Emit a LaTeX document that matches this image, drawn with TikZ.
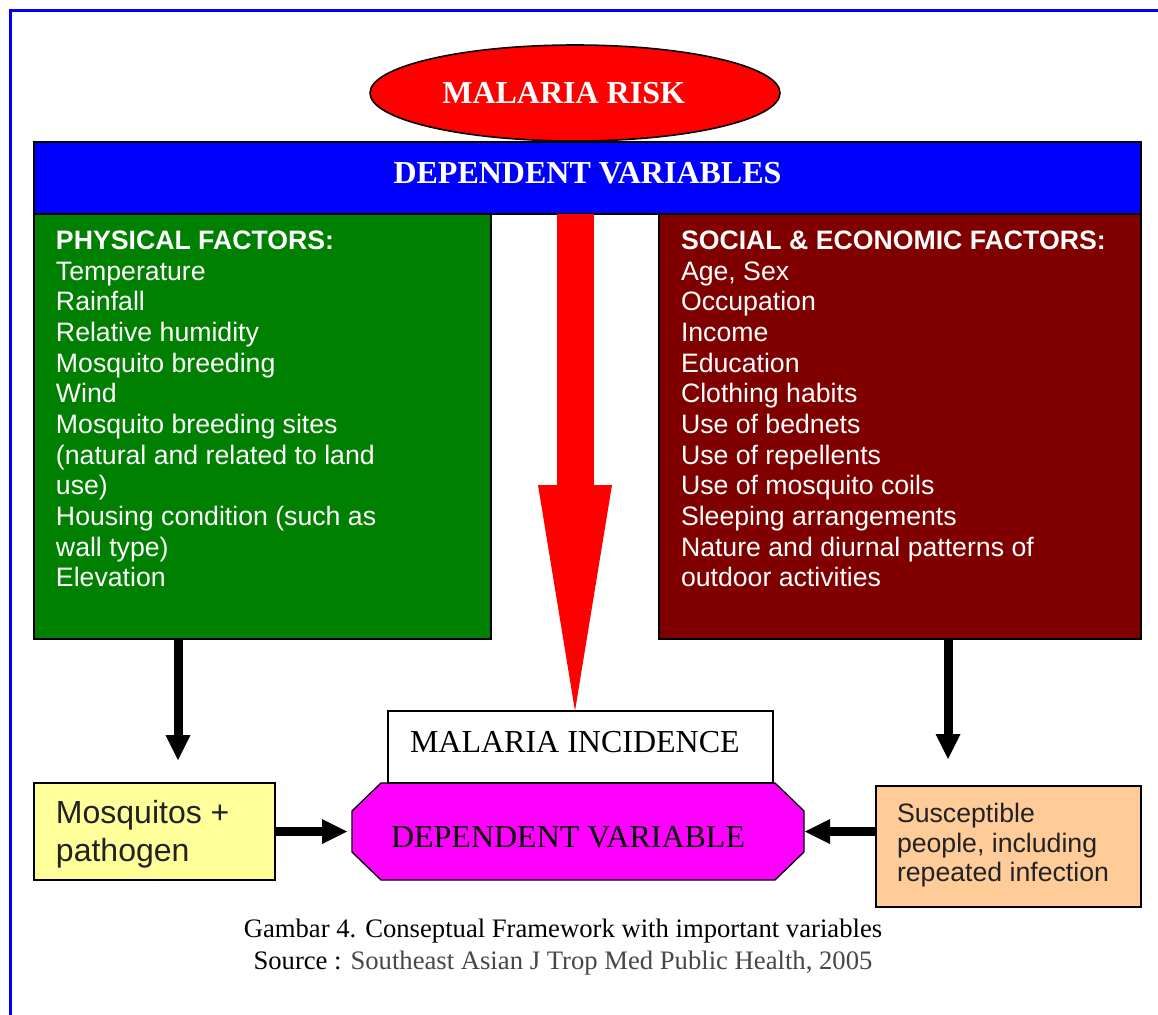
\documentclass[tikz,border=0pt]{standalone}
\usepackage{fontspec}
\setmainfont{Liberation Serif}
\newfontfamily\arial{Liberation Sans}
\usetikzlibrary{arrows.meta,calc,shapes.geometric,backgrounds}
\definecolor{dvblue}{RGB}{0,0,255}
\definecolor{physgreen}{RGB}{0,128,0}
\definecolor{socred}{RGB}{128,0,0}
\definecolor{mosyellow}{RGB}{255,255,153}
\definecolor{suspeach}{RGB}{255,204,153}
\definecolor{octmagenta}{RGB}{255,0,255}
\definecolor{darktext}{RGB}{34,34,34}
\newcommand\boxtext[5]{\begin{minipage}[c][#2][t]{#1}\leftskip=#3\relax\rule{0pt}{#4}#5\end{minipage}}
\begin{document}
\begin{tikzpicture}[x=0.75pt,y=-0.75pt,
  box/.style={draw=black,line width=1pt,inner sep=0pt,outer sep=0pt},
  blk/.style={draw=black,line width=6.75pt,-{Triangle[width=18.75pt,length=18.75pt,line width=0pt]}},
  bigserif/.style={font=\fontsize{24pt}{28pt}\selectfont},
  sans20/.style={font=\arial\fontsize{20pt}{23pt}\selectfont}
  ]
\useasboundingbox (0,0) rectangle (1158,1015);
% frame
\draw[dvblue,line width=2.25pt] (10.5,1015) -- (10.5,10.5) -- (1158,10.5);
% top ellipse
\node[ellipse,draw=black,line width=1.2pt,fill=red,minimum width=307.5pt,minimum height=72pt,inner sep=0pt,text=white,font=\bfseries\fontsize{24pt}{28pt}\selectfont] (risk) at (575,93) {MALARIA RISK\kern17pt};
% blue bar
\node[box,fill=dvblue,minimum width=830.25pt,minimum height=54pt,text=white,font=\bfseries\fontsize{24pt}{28pt}\selectfont,text depth=8.25pt] (bar) at (587.5,178) {DEPENDENT VARIABLES};
% physical factors
\node[box,fill=physgreen,text=white,sans20] (phys) at (262.5,426.5) {\boxtext{342.75pt}{318.75pt}{16.5pt}{26.5pt}{{\bfseries PHYSICAL FACTORS:}\\Temperature\\Rainfall\\Relative humidity\\Mosquito breeding\\Wind\\Mosquito breeding sites\\(natural and related to land\\use)\\Housing condition (such as\\wall type)\\Elevation}};
% social factors
\node[box,fill=socred,text=white,sans20] (soc) at (900,426.5) {\boxtext{361.5pt}{318.75pt}{16.5pt}{26.5pt}{{\bfseries SOCIAL \& ECONOMIC FACTORS:}\\Age, Sex\\Occupation\\Income\\Education\\Clothing habits\\Use of bednets\\Use of repellents\\Use of mosquito coils\\Sleeping arrangements\\Nature and diurnal patterns of\\outdoor activities}};
% dependent variable (octagon)
\node[inner sep=0pt,outer sep=0pt,bigserif] (dv) at (578,831.5) {\boxtext{339pt}{72.75pt}{29.25pt}{48pt}{DEPENDENT VARIABLE}};
% malaria incidence
\node[box,fill=white,bigserif] (inc) at (580.5,747) {\boxtext{288.75pt}{54pt}{16.5pt}{30.75pt}{MALARIA INCIDENCE}};
% mosquitos
\node[box,fill=mosyellow,text=darktext,font=\arial\fontsize{24pt}{28.5pt}\selectfont] (mos) at (154.5,831.5) {\boxtext{180.75pt}{72.75pt}{16.5pt}{30pt}{Mosquitos +\\pathogen}};
% susceptible
\node[box,fill=suspeach,text=darktext,font=\arial\fontsize{20pt}{22.3pt}\selectfont] (sus) at (1008.5,846.5) {\boxtext{198.75pt}{90.75pt}{15.75pt}{27.2pt}{Susceptible\\people, including\\repeated infection}};
% caption
\node[align=center,font=\fontsize{20pt}{24pt}\selectfont] (cap) at (563,947) {Gambar 4. Conseptual Framework with important variables\\Source : {\color{black!72}Southeast Asian J Trop Med Public Health, 2005}};
% background layer: white page and octagon
\begin{scope}[on background layer]
\fill[white] (0,0) rectangle (1158,1015);
\draw[fill=octmagenta,line width=1pt]
  ($(dv.north west)+(29,0)$) -- ($(dv.north east)+(-29,0)$) -- ($(dv.north east)+(0,28)$) -- ($(dv.south east)+(0,-28)$) -- ($(dv.south east)+(-29,0)$) -- ($(dv.south west)+(29,0)$) -- ($(dv.south west)+(0,-28)$) -- ($(dv.north west)+(0,28)$) -- cycle;
\end{scope}
% big red arrow
\draw[red,line width=27.75pt,-{Triangle[width=55.5pt,length=169.5pt,line width=0pt]}] (risk.center |- bar.south) -- (risk.center |- inc.north);
% black arrows
\coordinate (pa) at ($(phys.south west)+(144,0)$);
\coordinate (pb) at ($(phys.south west)+(144,121)$);
\coordinate (sa) at ($(soc.south west)+(289,0)$);
\coordinate (sb) at ($(soc.south west)+(289,120)$);
\draw[blk] (pa) -- (pb);
\draw[blk] (sa) -- (sb);
\draw[blk,shorten >=3.75pt] (mos.east) -- (dv.west);
\draw[blk,shorten >=0.75pt] (sus.west |- dv.east) -- (dv.east);
\end{tikzpicture}
\end{document}
